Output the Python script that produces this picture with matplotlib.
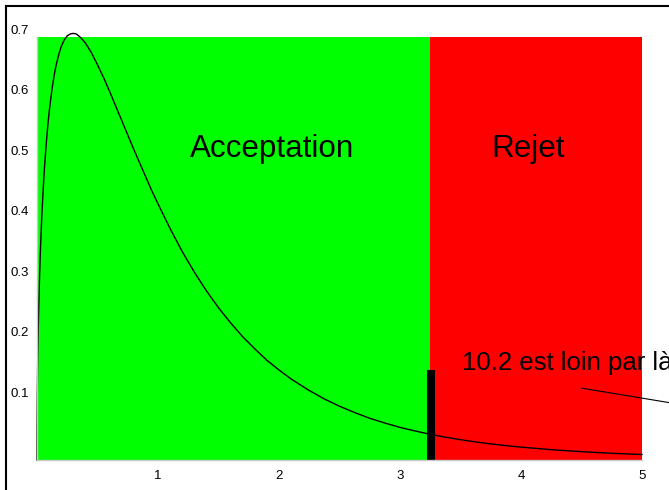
import matplotlib
matplotlib.use("Agg")
import matplotlib.pyplot as plt
from matplotlib.lines import Line2D

# Density curve
curve_x = [0.0, 0.0002, 0.0005, 0.001, 0.002, 0.003, 0.005, 0.0075, 0.01, 0.015, 0.02,
           0.03, 0.04, 0.05, 0.06, 0.07, 0.08, 0.09, 0.1, 0.115, 0.13, 0.145,
           0.16, 0.18, 0.2, 0.225, 0.25, 0.275, 0.3, 0.325, 0.35, 0.375, 0.4, 0.45,
           0.5, 0.55, 0.6, 0.65, 0.7, 0.75, 0.8, 0.85, 0.9, 0.95, 1.0, 1.1, 1.2, 1.3,
           1.4, 1.5, 1.6, 1.7, 1.8, 1.9, 2.0, 2.1, 2.25, 2.375, 2.5, 2.625, 2.75, 2.875,
           3.0, 3.125, 3.25, 3.375, 3.5, 3.625, 3.75, 3.875, 4.0,
           4.25, 4.5, 4.75, 5.0]
curve_y = [0.0, 0.031, 0.049, 0.068, 0.097, 0.118, 0.152, 0.185, 0.213, 0.259, 0.296,
           0.356, 0.404, 0.444, 0.478, 0.507, 0.532, 0.555, 0.575, 0.600, 0.622, 0.640,
           0.655, 0.671, 0.684, 0.695, 0.702, 0.705, 0.706, 0.705, 0.701, 0.696, 0.690, 0.674,
           0.654, 0.633, 0.610, 0.586, 0.562, 0.538, 0.514, 0.491, 0.468, 0.445, 0.424, 0.383, 0.345, 0.311,
           0.280, 0.252, 0.227, 0.204, 0.184, 0.165, 0.149, 0.134, 0.115, 0.101, 0.089, 0.0785, 0.069, 0.0612,
           0.054, 0.048, 0.0425, 0.0378, 0.0336, 0.0299, 0.0267, 0.0238, 0.0213,
           0.0171, 0.0138, 0.0111, 0.0091]

x_min, x_max = 0.0, 5.0
y_top = 0.7
critical = 3.248
observed_bar_height = 0.149
x_ticks = [1, 2, 3, 4, 5]
y_ticks = [0.1, 0.2, 0.3, 0.4, 0.5, 0.6, 0.7]
labels = ["Acceptation", "Rejet"]
note = "10.2 est loin par là"

W, H = 669, 490
fig = plt.figure(figsize=(W / 100, H / 100), dpi=100)
ax = fig.add_axes([37 / W, (H - 460) / H, (642 - 37) / W, (460 - 37) / H])
ax.set_xlim(x_min, x_max)
ax.set_ylim(0, y_top)

ax.axvspan(x_min, critical, color="#00ff00", lw=0, zorder=0)
ax.axvspan(critical, x_max, color="#ff0000", lw=0, zorder=0)

ax.plot(curve_x, curve_y, color="black", lw=1.0, clip_on=False, zorder=3,
        solid_joinstyle="round")
ax.bar([critical + 0.006], [observed_bar_height], width=0.066, color="black", zorder=4)

fam = ["Liberation Sans", "DejaVu Sans"]
ax.text(1.946, 0.501, labels[0], fontsize=22.6, ha="center", va="baseline", family=fam, zorder=5)
ax.text(4.06, 0.501, labels[1], fontsize=22.6, ha="center", va="baseline", family=fam, zorder=5)
ax.text(3.51, 0.149, note, fontsize=18.5, ha="left", va="baseline", family=fam,
        clip_on=False, zorder=5)
ax.plot([4.504, 6.5], [0.1188, 0.0528], color="black", lw=0.8, clip_on=False, zorder=5)

for s in ["top", "right"]:
    ax.spines[s].set_visible(False)
for s in ["left", "bottom"]:
    ax.spines[s].set_color("#c8c8c8")
    ax.spines[s].set_linewidth(1.0)
    ax.spines[s].set_zorder(6)

ax.set_xticks(x_ticks)
ax.set_yticks(y_ticks)
ax.set_xticklabels([str(t) for t in x_ticks], family=fam, fontsize=9.5)
ax.set_yticklabels([str(t) for t in y_ticks], family=fam, fontsize=9.5)
ax.tick_params(axis="both", length=0, colors="black")
ax.tick_params(axis="x", pad=7)
ax.tick_params(axis="y", pad=6)
for lab in ax.get_yticklabels():
    lab.set_verticalalignment("bottom")

# outer frame (top and left edges visible)
fig.add_artist(Line2D([6 / W, 1], [1 - 6 / H, 1 - 6 / H], color="black", lw=1.5,
                      transform=fig.transFigure))
fig.add_artist(Line2D([6 / W, 6 / W], [0, 1 - 6 / H], color="black", lw=1.5,
                      transform=fig.transFigure))

fig.savefig("out.png", dpi=100)
